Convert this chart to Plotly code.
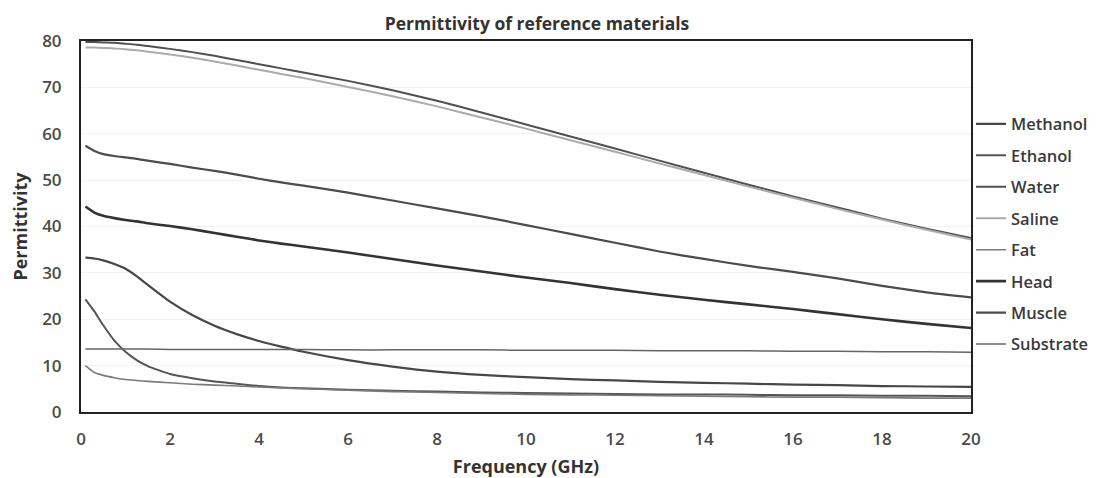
import plotly.graph_objects as go

freq = [0.1, 0.3, 0.5, 0.75, 1.0, 1.25, 1.5, 2, 2.5, 3, 3.5, 4, 4.5,
        5, 6, 7, 8, 9, 10, 11, 12, 13, 14, 15, 16, 17, 18, 19, 20]

methanol = [33.3, 33.1, 32.7, 31.9, 30.9, 29.3, 27.4, 23.8, 20.9, 18.6, 16.8, 15.3, 14.1,
            13.0, 11.2, 9.8, 8.7, 8.0, 7.5, 7.1, 6.8, 6.5, 6.3, 6.1, 5.9, 5.8, 5.6, 5.5, 5.4]
ethanol = [24.3, 21.7, 18.7, 15.4, 13.0, 11.2, 9.9, 8.2, 7.3, 6.6, 6.1, 5.6, 5.3,
           5.1, 4.8, 4.6, 4.4, 4.2, 4.1, 4.0, 3.9, 3.8, 3.8, 3.7, 3.6, 3.6, 3.5, 3.5, 3.4]
water = [79.8, 79.8, 79.7, 79.6, 79.4, 79.2, 78.9, 78.3, 77.6, 76.8, 75.9, 75.0, 74.1,
         73.2, 71.4, 69.4, 67.1, 64.6, 62.0, 59.4, 56.8, 54.2, 51.6, 49.0, 46.5, 44.1, 41.7, 39.5, 37.5]
saline = [78.6, 78.6, 78.5, 78.4, 78.2, 78.0, 77.7, 77.1, 76.4, 75.6, 74.7, 73.8, 72.9,
          72.0, 70.1, 68.1, 65.9, 63.5, 61.1, 58.6, 56.1, 53.6, 51.1, 48.6, 46.2, 43.8, 41.5, 39.3, 37.2]
fat = [10.0, 8.5, 7.9, 7.4, 7.0, 6.8, 6.6, 6.3, 6.0, 5.8, 5.6, 5.4, 5.2,
       5.0, 4.7, 4.4, 4.2, 4.0, 3.8, 3.7, 3.6, 3.5, 3.4, 3.3, 3.2, 3.2, 3.1, 3.0, 3.0]
head = [44.3, 43.0, 42.3, 41.8, 41.4, 41.1, 40.7, 40.1, 39.4, 38.6, 37.8, 37.0, 36.3,
        35.7, 34.4, 33.0, 31.6, 30.3, 29.0, 27.8, 26.5, 25.3, 24.2, 23.2, 22.2, 21.1, 20.0, 19.0, 18.1]
muscle = [57.4, 56.3, 55.6, 55.2, 54.9, 54.6, 54.2, 53.5, 52.7, 52.0, 51.2, 50.3, 49.5,
          48.8, 47.3, 45.6, 43.9, 42.2, 40.3, 38.4, 36.5, 34.6, 33.0, 31.5, 30.2, 28.8, 27.2, 25.8, 24.7]
substrate = [13.6, 13.6, 13.6, 13.6, 13.6, 13.6, 13.6, 13.5, 13.5, 13.5, 13.5, 13.5, 13.5,
             13.5, 13.4, 13.4, 13.4, 13.4, 13.3, 13.3, 13.3, 13.2, 13.2, 13.2, 13.1, 13.1, 13.0, 13.0, 12.9]

series = [
    ("Methanol", methanol, "#474747", 2.2),
    ("Ethanol", ethanol, "#555555", 2.0),
    ("Water", water, "#505050", 2.0),
    ("Saline", saline, "#ababab", 2.0),
    ("Fat", fat, "#7a7a7a", 1.6),
    ("Head", head, "#333333", 2.6),
    ("Muscle", muscle, "#4c4c4c", 2.2),
    ("Substrate", substrate, "#666666", 1.5),
]

FONT = "Open Sans"
fig = go.Figure()
for name, vals, color, w in series:
    fig.add_trace(go.Scatter(x=freq, y=vals, mode="lines", name=name,
                             legendgroup=name,
                             line=dict(color=color, width=w, shape="spline", smoothing=0.5)))

# page body has an 8px default margin, so the figure is sized 8px smaller
fig.update_layout(
    width=1098, height=470,
    margin=dict(l=73, r=135, t=33, b=66, autoexpand=False),
    paper_bgcolor="white", plot_bgcolor="white",
    font=dict(family=FONT, size=14, color="#444444"),
    title=dict(text="<b>Permittivity of reference materials</b>", xref="container",
               x=0.4818, xanchor="center",
               yref="container", y=0.966, yanchor="middle",
               font=dict(family=FONT, size=17.5, color="#333333")),
    showlegend=True,
    legend=dict(x=1.0, xanchor="left", y=0.823, yanchor="top",
                tracegroupgap=7, itemwidth=30,
                font=dict(family=FONT, size=16.5, color="#3a3a3a", weight=600),
                bgcolor="rgba(0,0,0,0)"),
    xaxis=dict(range=[0, 20], dtick=2, tick0=0, showgrid=False, zeroline=False,
               showline=True, linecolor="#222222", linewidth=2, mirror=True,
               ticks="", ticklabelstandoff=11, automargin=False,
               tickfont=dict(family=FONT, size=17, color="#4a4a4a", weight=600),
               title=dict(text="<b>Frequency (GHz)</b>", standoff=16,
                          font=dict(family=FONT, size=18, color="#333333"))),
    yaxis=dict(range=[0, 80], dtick=10, tick0=0, showgrid=True, gridcolor="#f3f3f3",
               gridwidth=1, zeroline=False,
               showline=True, linecolor="#222222", linewidth=2, mirror=True,
               ticks="", ticklabelstandoff=14, automargin=False,
               tickfont=dict(family=FONT, size=17, color="#4a4a4a", weight=600),
               title=dict(text="<b>Permittivity</b>", standoff=10,
                          font=dict(family=FONT, size=18, color="#333333"))),
)

fig.write_html("out.html")
